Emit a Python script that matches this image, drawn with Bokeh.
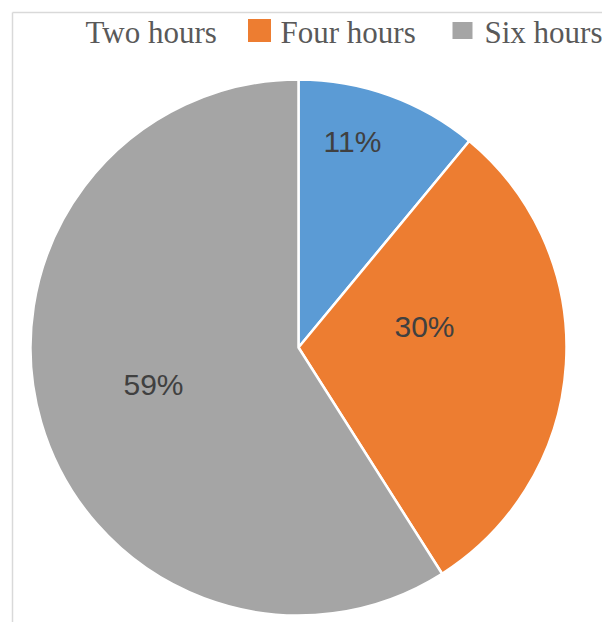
import math
from bokeh.plotting import figure
from bokeh.models import Range1d, ColumnDataSource
from bokeh.core.properties import value
from bokeh.embed import file_html
from bokeh.resources import INLINE

# ---- data ----
categories = ["Two hours", "Four hours", "Six hours"]
shares = [11, 30, 59]
labels = ["11%", "30%", "59%"]
colors = ["#5B9BD5", "#ED7D31", "#A5A5A5"]

# ---- layout (screenshot pixels) ----
W, H = 602, 622
def px(sx):
    return sx
def py(sy):
    return H - sy

cx, cy, R = px(298), py(347), 268
label_pos = [(352, 141), (424, 326), (153, 384)]
legend_text_x = [85, 280, 484]
legend_swatch = [None, (259, 30, 23, 23), (462, 30, 20, 17)]
legend_baseline = 32

p = figure(width=W, height=H, output_backend="svg", toolbar_location=None,
           x_range=Range1d(0, W), y_range=Range1d(0, H), min_border=0)
p.axis.visible = False
p.grid.visible = False
p.outline_line_color = None
p.background_fill_color = "white"
p.border_fill_color = "white"

# chart frame (top and left edges visible)
p.segment(x0=[px(12), px(12)], y0=[py(12), py(12)], x1=[px(12), W], y1=[py(640), py(12)],
          line_color="#D9D9D9", line_width=1.5)

# wedges clockwise from 12 o'clock
total = sum(shares)
starts, ends = [], []
cum = 0
for s in shares:
    a0 = math.pi / 2 - 2 * math.pi * (cum + s) / total
    a1 = math.pi / 2 - 2 * math.pi * cum / total
    starts.append(a0)
    ends.append(a1)
    cum += s
src = ColumnDataSource(dict(start=starts, end=ends, color=colors, cat=categories))
p.wedge(x=cx, y=cy, radius=R, start_angle="start", end_angle="end", direction="anticlock",
        fill_color="color", line_color="white", line_width=2.5, source=src)

# data labels
p.text(x=[px(a) for a, b in label_pos], y=[py(b) for a, b in label_pos], text=labels,
       text_font=value("Liberation Sans"), text_font_size="30px", text_color="#404040",
       text_align="center", text_baseline="middle")

# legend
for i, cat in enumerate(categories):
    sw = legend_swatch[i]
    if sw is not None:
        sx, sy, w, h = sw
        p.rect(x=[px(sx)], y=[py(sy)], width=w, height=h, fill_color=colors[i], line_color=None)
p.text(x=[px(v) for v in legend_text_x], y=[py(legend_baseline)] * 3, text=categories,
       text_font=value("Liberation Serif"), text_font_size="31px", text_color="#595959",
       text_align="left", text_baseline="alphabetic")

open("out.html", "w").write(file_html(p, INLINE))
